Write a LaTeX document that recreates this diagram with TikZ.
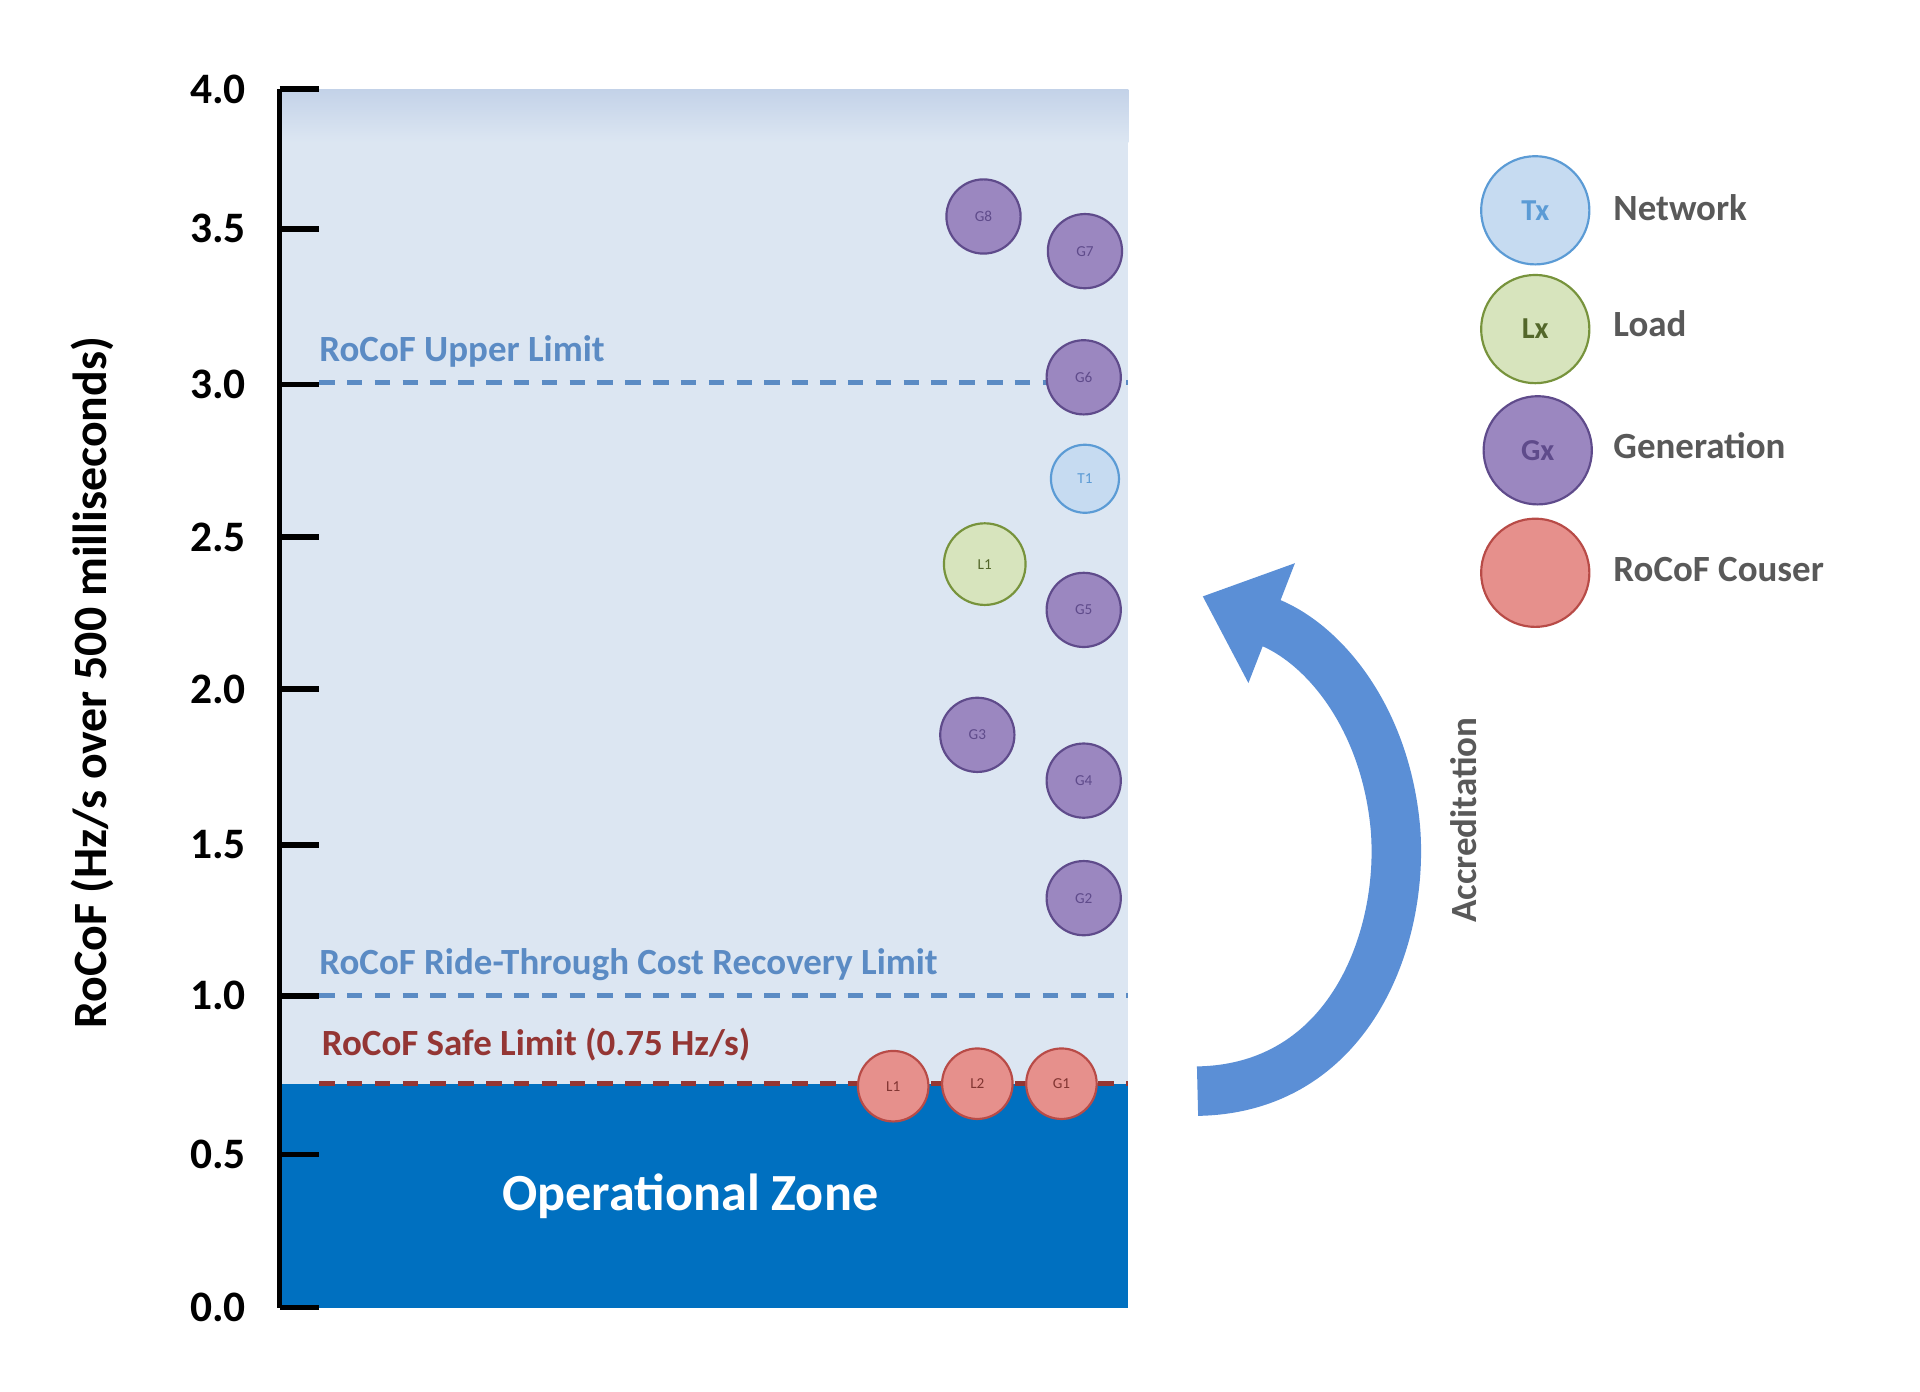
\documentclass[tikz,border=0pt]{standalone}
\usepackage{fontspec}
\setmainfont{Carlito}
\usetikzlibrary{arrows.meta}
\definecolor{bgblue}{HTML}{DCE6F2}
\definecolor{topblue}{HTML}{C3D2E8}
\definecolor{opblue}{HTML}{0070C0}
\definecolor{limblue}{HTML}{5B8BC4}
\definecolor{limred}{HTML}{943634}
\definecolor{genf}{HTML}{9B87C0}
\definecolor{gend}{HTML}{5F4B8B}
\definecolor{netf}{HTML}{C6DBF1}
\definecolor{netd}{HTML}{5B9BD5}
\definecolor{loadf}{HTML}{D7E4BD}
\definecolor{loadd}{HTML}{77933C}
\definecolor{redf}{HTML}{E6908C}
\definecolor{redd}{HTML}{B84B47}
\definecolor{txtgray}{HTML}{595959}
\definecolor{arrowb}{HTML}{5B8FD6}
\tikzset{
  tick/.style={font=\fontsize{20}{24}\selectfont\bfseries, anchor=east},
  lim/.style={font=\fontsize{17}{20}\selectfont\bfseries, anchor=south west},
  dline/.style={dashed, dash pattern=on 0.25cm off 0.2cm, line width=2.2pt},
  gen/.style={circle, draw=gend, fill=genf, line width=1pt, minimum size=1.2cm, inner sep=0pt, font=\fontsize{7}{8}\selectfont, text=gend,
    append after command={\pgfextra{\draw[gend, line width=0.8pt] (\tikzlastnode.center) circle (0.42cm);}}},
  net/.style={gen, draw=netd, fill=netf, text=netd, minimum size=1.1cm,
    append after command={\pgfextra{\draw[netd, line width=0.8pt] (\tikzlastnode.center) circle (0.4cm);}}},
  ld/.style={gen, draw=loadd, fill=loadf, text=loadd!70!black, minimum size=1.32cm,
    append after command={\pgfextra{\draw[loadd, line width=0.8pt] (\tikzlastnode.center) circle (0.45cm);}}},
  rc/.style={gen, draw=redd, fill=redf, text=redd!70!black, minimum size=1.14cm,
    append after command={\pgfextra{\draw[redd, line width=0.8pt] (\tikzlastnode.center) circle (0.4cm);}}},
  leg/.style={font=\fontsize{17}{20}\selectfont\bfseries, text=txtgray, anchor=west},
}
\begin{document}
\begin{tikzpicture}[x=0.02cm,y=-0.02cm]
\useasboundingbox (0,0) rectangle (1552,1125);
\fill[white] (0,0) rectangle (1552,1125);
% plot background
\fill[bgblue] (226,72) rectangle (912,1057);
\shade[top color=topblue, bottom color=bgblue] (226,72) rectangle (912,115);
\fill[opblue] (226,876) rectangle (912,1057);
\node[font=\fontsize{24}{28}\selectfont\bfseries, text=white] (oz) at (558,967) {Operational Zone};
% axis
\draw[line width=2.5pt] (226,72) -- (226,1057);
\foreach \y/\l in {72/4.0,185/3.5,311/3.0,434/2.5,557/2.0,683/1.5,805/1.0,933/0.5,1057/0.0}{
  \draw[line width=2.5pt] (226,\y) -- (258,\y);
  \node[tick] at (205,\y) {\l};
}
\node[rotate=90, font=\fontsize{22}{26}\selectfont\bfseries] (ylab) at (75,552) {RoCoF (Hz/s over 500 milliseconds)};
% limit lines
\draw[dline, limblue] (258,309) -- (912,309);
\node[lim, text=limblue] at (252,303) {RoCoF Upper Limit};
\draw[dline, limblue] (258,805) -- (912,805);
\node[lim, text=limblue] at (252,799) {RoCoF Ride-Through Cost Recovery Limit};
\draw[dline, limred] (258,876) -- (912,876);
\node[lim, text=limred] at (254,864) {RoCoF Safe Limit (0.75 Hz/s)};
% units
\node[gen] (g8) at (795,175) {G8};
\node[gen] (g7) at (877,203) {G7};
\node[gen] (g6) at (876,305) {G6};
\node[net] (t1) at (877,387) {T1};
\node[ld] (l1) at (796,456) {L1};
\node[gen] (g5) at (876,493) {G5};
\node[gen] (g3) at (790,594) {G3};
\node[gen] (g4) at (876,631) {G4};
\node[gen] (g2) at (876,726) {G2};
\node[rc] (r1) at (722,878) {L1};
\node[rc] (r2) at (790,876) {L2};
\node[rc] (r3) at (858,876) {G1};
% legend
\node[net, minimum size=1.75cm, font=\fontsize{14}{16}\selectfont\bfseries,
  append after command={\pgfextra{\draw[netd, line width=0.8pt] (\tikzlastnode.center) circle (0.6cm);}}] (ltx) at (1241,170) {Tx};
\node[leg] at (1298,168) {Network};
\node[ld, minimum size=1.75cm, font=\fontsize{14}{16}\selectfont\bfseries,
  append after command={\pgfextra{\draw[loadd, line width=0.8pt] (\tikzlastnode.center) circle (0.6cm);}}] (llx) at (1241,266) {Lx};
\node[leg] at (1298,262) {Load};
\node[gen, minimum size=1.75cm, font=\fontsize{14}{16}\selectfont\bfseries,
  append after command={\pgfextra{\draw[gend, line width=0.8pt] (\tikzlastnode.center) circle (0.6cm);}}] (lgx) at (1243,364) {Gx};
\node[leg] at (1298,360) {Generation};
\node[rc, minimum size=1.75cm,
  append after command={\pgfextra{\draw[redd, line width=0.8pt] (\tikzlastnode.center) circle (0.6cm);}}] (lrc) at (1241,463) {};
\node[leg] at (1298,460) {RoCoF Couser};
% accreditation arrow
\coordinate (as) at (968,882);
\coordinate (ae) at (972,482);
\draw[arrowb, line width=0.8cm, -{Triangle[length=1.2cm,width=2.0cm]}]
  (as) .. controls (1090,880) and (1135,760) .. (1128,670)
  .. controls (1120,580) and (1070,520) .. (ae);
\node[rotate=90, font=\fontsize{17}{20}\selectfont\bfseries, text=txtgray] (acc) at (1183,663) {Accreditation};
\end{tikzpicture}
\end{document}
